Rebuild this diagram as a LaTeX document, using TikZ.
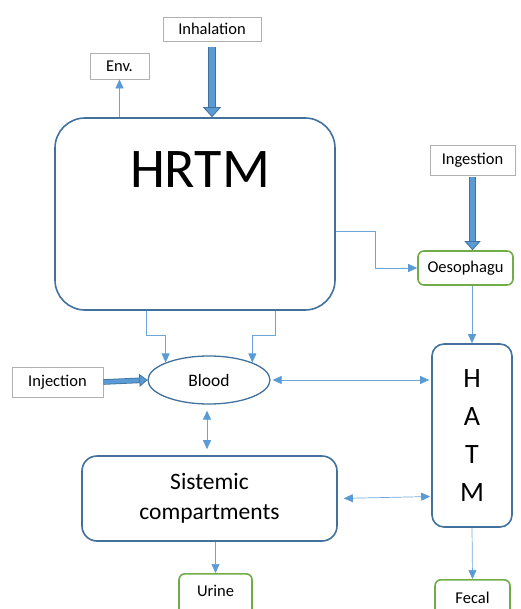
\documentclass[tikz,border=0pt]{standalone}
\usepackage{fontspec}
\setmainfont{Carlito}
\usetikzlibrary{arrows.meta,shapes.geometric,calc}

\definecolor{edgeblue}{HTML}{41719C}
\definecolor{fillblue}{HTML}{5B9BD5}
\definecolor{lineblue}{HTML}{6FA6DA}
\definecolor{leafgreen}{HTML}{70AD47}
\definecolor{boxgray}{HTML}{B0B0B0}

\tikzset{
  srcbox/.style={draw=boxgray, line width=0.8pt, fill=white, font=\fontsize{16.5}{18}\selectfont},
  organbox/.style={draw=edgeblue, line width=1.6pt, fill=white},
  outbox/.style={draw=leafgreen, line width=1.6pt, rounded corners=6pt, fill=white},
  thinarrow/.style={draw=lineblue, line width=0.7pt, -{Triangle[length=9pt,width=8pt,fill=fillblue,color=fillblue]}},
  twoway/.style={draw=lineblue, line width=0.7pt, {Triangle[length=9pt,width=8pt,color=fillblue]}-{Triangle[length=9pt,width=8pt,color=fillblue]}},
  bigarrow/.style={draw=edgeblue, line width=0.8pt, double=fillblue, double distance=6pt,
    -{Triangle[length=10pt,width=18pt,fill=fillblue]}}
}

\begin{document}
\begin{tikzpicture}[x=1pt,y=-1pt]
  \useasboundingbox (0,0) rectangle (520,609);

  % sources
  \node[srcbox, minimum width=98, minimum height=24] (inh) at (212,29) {Inhalation};
  \node[srcbox, minimum width=59, minimum height=26] (env) at (119.5,66) {Env.};
  \node[srcbox, minimum width=85, minimum height=30] (ing) at (472.5,160) {Ingestion};
  \node[srcbox, minimum width=91, minimum height=30] (inj) at (57.5,382) {Injection};

  % compartments
  \node[organbox, rounded corners=30pt, minimum width=280, minimum height=192] (hrtm) at (195,214) {};
  \node[font=\fontsize{56}{60}\selectfont] (hrtmtxt) at (200,170) {HRTM};
  \node[organbox, ellipse, line width=1.3pt, minimum width=122, minimum height=48, inner sep=0pt,
    font=\fontsize{17.5}{19}\selectfont] (blood) at (209,380) {Blood};
  \node[organbox, rounded corners=12pt, minimum width=80, minimum height=183, align=center,
    font=\fontsize{28}{38}\selectfont] (hatm) at (472,435.5) {H\\A\\T\\M};
  \node[organbox, rounded corners=15pt, minimum width=255, minimum height=85, align=center,
    font=\fontsize{23.5}{30}\selectfont] (sist) at (209.5,498.5) {Sistemic\\compartments};

  % outlets
  \node[outbox, minimum width=95, minimum height=34, font=\fontsize{16.5}{18}\selectfont] (oes) at (465.5,268) {Oesophagu};
  \node[outbox, minimum width=73, minimum height=50, anchor=north] (urine) at (215.5,573) {};
  \node[font=\fontsize{16.5}{18}\selectfont] (urinetxt) at (215.5,591) {Urine};
  \node[outbox, minimum width=75, minimum height=50, anchor=north] (fecal) at (472.5,579) {};
  \node[font=\fontsize{16.5}{18}\selectfont] (fecaltxt) at (472.5,598) {Fecal};

  % intakes
  \draw[bigarrow, shorten <=6pt] (inh.south) -- (inh.south |- hrtm.north);
  \draw[bigarrow, shorten <=2pt, double distance=5.5pt,
    -{Triangle[length=9pt,width=16pt,fill=fillblue]}] (ing.south) -- (oes.north -| ing.south);
  \draw[bigarrow, double distance=4pt,
    -{Triangle[length=8pt,width=13pt,fill=fillblue]}] (inj.east) -- (blood.west);

  % transfers
  \draw[thinarrow] (env.south |- hrtm.north) -- (env.south);
  \draw[thinarrow] ([yshift=-17pt]hrtm.east) -- ++(40,0) |- (oes.west);
  \draw[thinarrow] (hatm.north |- oes.south) -- (hatm.north);
  \draw[thinarrow] ([xshift=-49pt]hrtm.south) -- ++(0,25) -| (blood.158);
  \draw[thinarrow] ([xshift=80pt]hrtm.south) -- ++(0,25) -| (blood.22);
  \draw[twoway, shorten <=2pt, shorten >=2pt] (blood.east) -- (blood.east -| hatm.west);
  \draw[twoway, shorten <=6pt, shorten >=6pt] ([xshift=-2pt]blood.south) -- ([xshift=-2pt]blood.south |- sist.north);
  \draw[twoway, shorten <=6pt, shorten >=1pt] (sist.east) -- ([yshift=2pt]sist.east -| hatm.west);
  \draw[thinarrow] (urine.north |- sist.south) -- (urine.north);
  \draw[thinarrow] (hatm.south) -- (fecal.north);
\end{tikzpicture}
\end{document}
